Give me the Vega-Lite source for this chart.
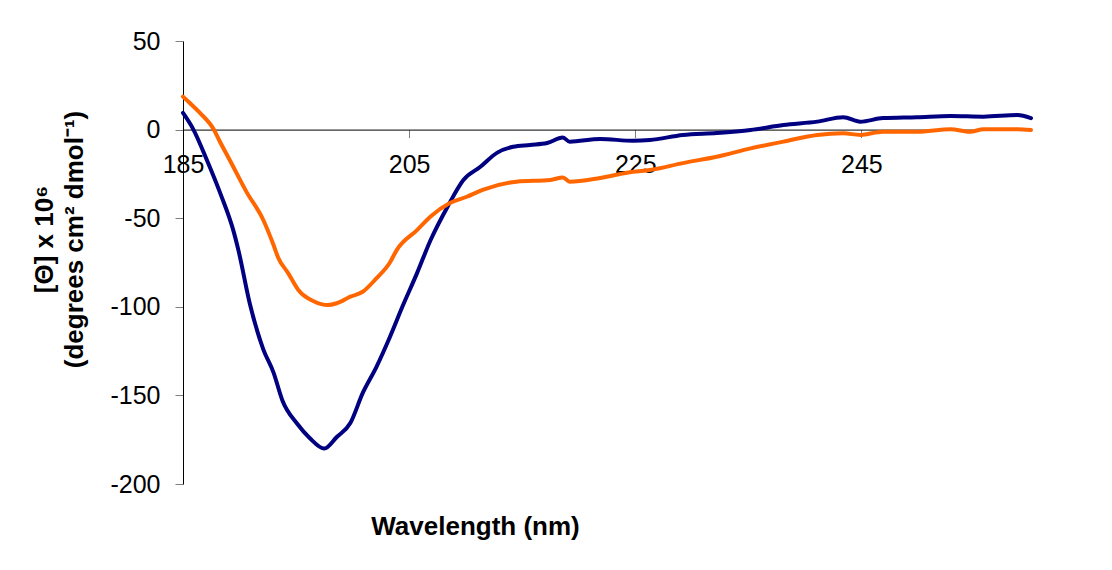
{
  "$schema": "https://vega.github.io/schema/vega-lite/v6.json",
  "width": 848,
  "height": 443,
  "autosize": "none",
  "padding": {"left": 183, "top": 41, "right": 81, "bottom": 86},
  "background": "white",
  "config": {
    "view": {"stroke": null},
    "font": "Liberation Sans",
    "axis": {"grid": false, "domainColor": "black", "tickColor": "#7f7f7f", "tickSize": 8, "labelColor": "black", "titleColor": "black", "labelFont": "Liberation Sans", "titleFont": "Liberation Sans"}
  },
  "datasets": {
    "cd": [
      {"nm": 185.0, "theta": 9.4, "sample": "A"},
      {"nm": 185.9, "theta": 0.3, "sample": "A"},
      {"nm": 187.1, "theta": -17, "sample": "A"},
      {"nm": 188.3, "theta": -36, "sample": "A"},
      {"nm": 189.5, "theta": -58, "sample": "A"},
      {"nm": 189.9, "theta": -68, "sample": "A"},
      {"nm": 190.9, "theta": -98, "sample": "A"},
      {"nm": 192.1, "theta": -124, "sample": "A"},
      {"nm": 193.0, "theta": -137, "sample": "A"},
      {"nm": 193.8, "theta": -153, "sample": "A"},
      {"nm": 195.1, "theta": -166, "sample": "A"},
      {"nm": 196.2, "theta": -174, "sample": "A"},
      {"nm": 197.5, "theta": -180, "sample": "A"},
      {"nm": 198.6, "theta": -173.5, "sample": "A"},
      {"nm": 199.8, "theta": -165.6, "sample": "A"},
      {"nm": 200.9, "theta": -148.6, "sample": "A"},
      {"nm": 202.1, "theta": -134, "sample": "A"},
      {"nm": 203.3, "theta": -117, "sample": "A"},
      {"nm": 204.4, "theta": -100, "sample": "A"},
      {"nm": 205.7, "theta": -81, "sample": "A"},
      {"nm": 206.9, "theta": -62.3, "sample": "A"},
      {"nm": 208.4, "theta": -43.5, "sample": "A"},
      {"nm": 209.8, "theta": -28.4, "sample": "A"},
      {"nm": 211.3, "theta": -21, "sample": "A"},
      {"nm": 212.8, "theta": -13, "sample": "A"},
      {"nm": 214.2, "theta": -9.7, "sample": "A"},
      {"nm": 215.7, "theta": -8.7, "sample": "A"},
      {"nm": 217.2, "theta": -7.6, "sample": "A"},
      {"nm": 218.6, "theta": -4.5, "sample": "A"},
      {"nm": 219.2, "theta": -6.8, "sample": "A"},
      {"nm": 221.9, "theta": -5.3, "sample": "A"},
      {"nm": 224.8, "theta": -6.3, "sample": "A"},
      {"nm": 226.3, "theta": -5.9, "sample": "A"},
      {"nm": 229.2, "theta": -3, "sample": "A"},
      {"nm": 232.2, "theta": -1.9, "sample": "A"},
      {"nm": 235.2, "theta": -0.2, "sample": "A"},
      {"nm": 238.1, "theta": 2.6, "sample": "A"},
      {"nm": 241.1, "theta": 4.5, "sample": "A"},
      {"nm": 243.4, "theta": 7, "sample": "A"},
      {"nm": 244.9, "theta": 4.5, "sample": "A"},
      {"nm": 246.9, "theta": 6.5, "sample": "A"},
      {"nm": 249.9, "theta": 7, "sample": "A"},
      {"nm": 252.9, "theta": 7.7, "sample": "A"},
      {"nm": 255.8, "theta": 7.3, "sample": "A"},
      {"nm": 258.8, "theta": 8.2, "sample": "A"},
      {"nm": 260.0, "theta": 6.5, "sample": "A"},

      {"nm": 185.0, "theta": 18.6, "sample": "B"},
      {"nm": 185.6, "theta": 15, "sample": "B"},
      {"nm": 186.5, "theta": 9.4, "sample": "B"},
      {"nm": 187.7, "theta": 0.3, "sample": "B"},
      {"nm": 188.2, "theta": -6, "sample": "B"},
      {"nm": 189.2, "theta": -18, "sample": "B"},
      {"nm": 190.6, "theta": -35, "sample": "B"},
      {"nm": 192.1, "theta": -51, "sample": "B"},
      {"nm": 193.0, "theta": -65, "sample": "B"},
      {"nm": 193.4, "theta": -72, "sample": "B"},
      {"nm": 194.3, "theta": -81, "sample": "B"},
      {"nm": 195.2, "theta": -90.5, "sample": "B"},
      {"nm": 196.6, "theta": -97, "sample": "B"},
      {"nm": 197.8, "theta": -99, "sample": "B"},
      {"nm": 198.6, "theta": -98, "sample": "B"},
      {"nm": 199.8, "theta": -94.3, "sample": "B"},
      {"nm": 200.9, "theta": -91.5, "sample": "B"},
      {"nm": 202.1, "theta": -84, "sample": "B"},
      {"nm": 203.3, "theta": -75, "sample": "B"},
      {"nm": 203.9, "theta": -68, "sample": "B"},
      {"nm": 205.7, "theta": -56.7, "sample": "B"},
      {"nm": 206.9, "theta": -49, "sample": "B"},
      {"nm": 208.6, "theta": -41.4, "sample": "B"},
      {"nm": 210.1, "theta": -37.9, "sample": "B"},
      {"nm": 211.5, "theta": -34, "sample": "B"},
      {"nm": 214.5, "theta": -29.4, "sample": "B"},
      {"nm": 217.5, "theta": -28.4, "sample": "B"},
      {"nm": 218.6, "theta": -27, "sample": "B"},
      {"nm": 219.2, "theta": -29.4, "sample": "B"},
      {"nm": 221.9, "theta": -27.3, "sample": "B"},
      {"nm": 224.8, "theta": -23.8, "sample": "B"},
      {"nm": 226.3, "theta": -22.8, "sample": "B"},
      {"nm": 229.2, "theta": -18.9, "sample": "B"},
      {"nm": 232.2, "theta": -15.3, "sample": "B"},
      {"nm": 235.2, "theta": -10.6, "sample": "B"},
      {"nm": 238.1, "theta": -6.8, "sample": "B"},
      {"nm": 241.1, "theta": -3, "sample": "B"},
      {"nm": 243.4, "theta": -2.1, "sample": "B"},
      {"nm": 244.9, "theta": -3, "sample": "B"},
      {"nm": 246.9, "theta": -1.2, "sample": "B"},
      {"nm": 249.9, "theta": -1.2, "sample": "B"},
      {"nm": 252.9, "theta": 0.2, "sample": "B"},
      {"nm": 254.6, "theta": -1.2, "sample": "B"},
      {"nm": 255.8, "theta": 0.2, "sample": "B"},
      {"nm": 258.8, "theta": 0.2, "sample": "B"},
      {"nm": 260.0, "theta": -0.2, "sample": "B"}
    ]
  },
  "data": {"name": "cd"},
  "mark": {"type": "line", "strokeWidth": 4, "strokeJoin": "round", "strokeCap": "round", "interpolate": "monotone"},
  "encoding": {
    "x": {
      "field": "nm",
      "type": "quantitative",
      "scale": {"domain": [185, 260], "nice": false, "zero": false},
      "axis": {
        "values": [185, 205, 225, 245],
        "offset": -354.4,
        "labelFontSize": 25,
        "labelPadding": 15,
        "labelFlush": false,
        "title": "Wavelength (nm)",
        "titleFontSize": 26,
        "titleFontWeight": "bold",
        "titleX": 292,
        "titleY": 405,
        "titleAlign": "center",
        "titleBaseline": "alphabetic"
      }
    },
    "y": {
      "field": "theta",
      "type": "quantitative",
      "scale": {"domain": [-200, 50], "nice": false},
      "axis": {
        "values": [-200, -150, -100, -50, 0, 50],
        "labelFontSize": 25,
        "labelPadding": 15,
        "labelExpr": "replace(datum.label, '−', '-')",
        "title": ["[Θ] x 10⁶", "(degrees cm² dmol⁻¹)"],
        "titleFontSize": 26,
        "titleFontWeight": "bold",
        "titleLineHeight": 30,
        "titleAngle": -90,
        "titleX": -139,
        "titleY": 198,
        "titleAlign": "center",
        "titleBaseline": "middle"
      }
    },
    "color": {
      "field": "sample",
      "type": "nominal",
      "scale": {"domain": ["A", "B"], "range": ["#000080", "#FF6600"]},
      "legend": null
    }
  }
}
